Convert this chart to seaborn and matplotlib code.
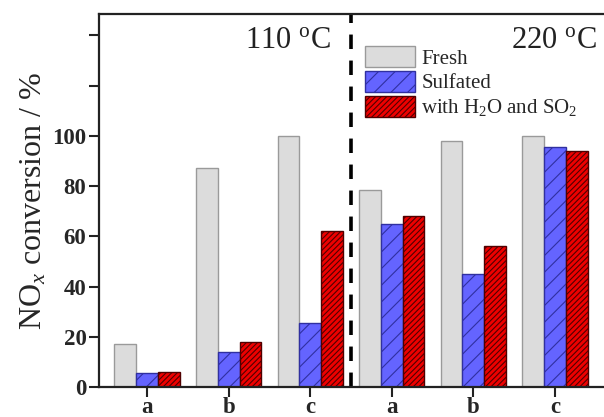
import matplotlib
matplotlib.use("Agg")
import matplotlib.pyplot as plt
import seaborn as sns
import pandas as pd

groups = ["110-a", "110-b", "110-c", "220-a", "220-b", "220-c"]
tick_labels = ["a", "b", "c", "a", "b", "c"]
series = ["Fresh", "Sulfated", "with H$_2$O and SO$_2$"]
fresh = [17, 87, 100, 78.5, 98, 100]
sulfated = [5.5, 14, 25.5, 65, 45, 95.5]
h2o_so2 = [6, 18, 62, 68, 56, 94]
temps = ["110 $^{\\mathrm{o}}$C", "220 $^{\\mathrm{o}}$C"]

sns.set_style("white")
plt.rcParams["font.family"] = ["Liberation Serif", "DejaVu Serif"]
plt.rcParams["mathtext.fontset"] = "custom"
plt.rcParams["mathtext.rm"] = "Liberation Serif"
plt.rcParams["mathtext.it"] = "Liberation Serif:italic"
plt.rcParams["hatch.linewidth"] = 0.8

rows = []
for vals, s in zip([fresh, sulfated, h2o_so2], series):
    for g, v in zip(groups, vals):
        rows.append({"group": g, "series": s, "value": v})
df = pd.DataFrame(rows)

fig = plt.figure(figsize=(6.04, 4.17), dpi=100)
ax = fig.add_axes([99/604, 1 - 387/417, 1.02 - 99/604, (387 - 14)/417])

colors = ["#dcdcdc", "#6464ff", "#ee0000"]
sns.barplot(data=df, x="group", y="value", hue="series", order=groups,
            hue_order=series, palette=colors, gap=0, width=0.8,
            saturation=1, ax=ax, legend=True)

edge = ["#9a9a9a", "#3030a0", "#500000"]
hatches = ["", "//", "//////"]
for cont, ec, h in zip(ax.containers, edge, hatches):
    for bar in cont:
        bar.set_edgecolor(ec)
        bar.set_linewidth(1.0)
        bar.set_hatch(h)

ax.set_xlim(-0.59, 5.75)
ax.set_ylim(0, 148.5)
ax.set_yticks([0, 20, 40, 60, 80, 100, 120, 140])
ax.set_yticklabels(["0", "20", "40", "60", "80", "100", "", ""])
ax.set_xticks(range(len(groups)))
ax.set_xticklabels(tick_labels)
for lab in ax.get_yticklabels():
    lab.set_fontweight("bold")
    lab.set_fontsize(16.5)
for lab in ax.get_xticklabels():
    lab.set_fontweight("bold")
    lab.set_fontsize(16.5)
ax.tick_params(axis="both", direction="out", length=7, width=1.5, color="#222222",
               left=True, bottom=True, pad=2)
ax.tick_params(axis="x", pad=0.5)
for sp in ["left", "bottom", "top"]:
    ax.spines[sp].set_linewidth(1.6)
    ax.spines[sp].set_color("#222222")
ax.spines["right"].set_visible(False)

ax.set_xlabel("")
ax.set_ylabel("NO$_x$ conversion / %", fontsize=23, labelpad=3)

ax.axvline(2.5, color="black", linewidth=2.6, linestyle=(0, (4, 3.2)))

fig.text(245/604, 1 - 41/417, temps[0], fontsize=22,
         ha="left", va="center", color="#222222")
fig.text(511/604, 1 - 41/417, temps[1], fontsize=22,
         ha="left", va="center", color="#222222")

handles, labels = ax.get_legend_handles_labels()
leg = ax.legend(handles, labels, loc="upper left", bbox_to_anchor=(362/604, 1 - 43/417),
                bbox_transform=fig.transFigure, frameon=False, fontsize=15,
                handlelength=2.4, handleheight=1.15, handletextpad=0.3,
                labelspacing=0.12, borderpad=0.15, borderaxespad=0)
for hnd, ec, h in zip(leg.legend_handles, edge, hatches):
    hnd.set_edgecolor(ec)
    hnd.set_linewidth(1.0)
    hnd.set_hatch(h)

fig.savefig("out.png", dpi=100)
